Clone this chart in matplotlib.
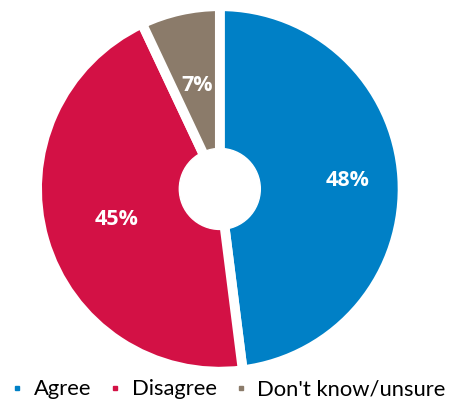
import numpy as np
import matplotlib.pyplot as plt
from matplotlib.lines import Line2D

labels = ['Agree', 'Disagree', "Don't know/unsure"]
values = [48, 45, 7]
colors = ['#0080C6', '#D31145', '#8B7B6A']
label_dist = [0.71, 0.60, 0.59]

fig = plt.figure(figsize=(4.57, 4.05), dpi=100)
ax = fig.add_axes([0.481 - 0.394, 0.533 - 0.444, 0.788, 0.889])

wedges, _ = ax.pie(values, colors=colors, startangle=90, counterclock=False,
                   radius=1.015,
                   wedgeprops=dict(edgecolor='white', linewidth=7))
ax.add_patch(plt.Circle((0, 0), 0.225, color='white', zorder=5))

# percent labels at the middle angle of each wedge
for w, v, d in zip(wedges, values, label_dist):
    ang = np.deg2rad((w.theta1 + w.theta2) / 2)
    ax.text(d * np.cos(ang), d * np.sin(ang), '{0}%'.format(v),
            ha='center', va='center', color='white', fontsize=15.5,
            fontweight='bold', family='Open Sans', zorder=6)

ax.set_xlim(-1, 1)
ax.set_ylim(-1, 1)
ax.set_aspect('equal')
ax.axis('off')

handles = [Line2D([], [], marker='s', linestyle='none', markersize=2.6,
                  color=c) for c in colors]
fig.legend(handles, labels, loc='lower center', ncol=3, frameon=False,
           bbox_to_anchor=(0.5, -0.035), handlelength=0.5, handletextpad=0.5,
           columnspacing=0.85, prop={'family': 'Lato', 'size': 15.8})

fig.savefig('out.png', dpi=100)
